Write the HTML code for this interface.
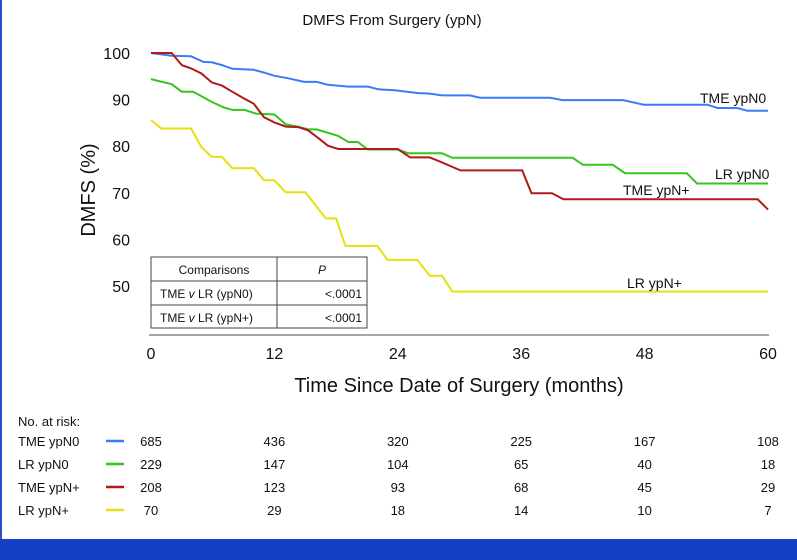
<!DOCTYPE html>
<html><head><meta charset="utf-8"><style>
body{margin:0;background:#fff;}
svg{display:block;font-family:"Liberation Sans",Arial,sans-serif;}
</style></head><body>
<svg id="chart" width="797" height="560" viewBox="0 0 797 560">
<rect x="0" y="0" width="797" height="560" fill="#fff"/>
<rect x="0" y="0" width="2" height="540" fill="#2a4fcf"/>
<rect x="0" y="539" width="797" height="21" fill="#1440c4"/>
<text x="392" y="25" font-size="15" text-anchor="middle" fill="#111">DMFS From Surgery (ypN)</text>
<text transform="translate(95,190) rotate(-90)" font-size="20" text-anchor="middle" fill="#111">DMFS (%)</text>
<text x="459" y="392" font-size="20" text-anchor="middle" fill="#111">Time Since Date of Surgery (months)</text>
<line x1="149" y1="335" x2="769" y2="335" stroke="#888" stroke-width="1.5"/>
<g id="yticks"></g><g id="xticks"></g><g id="series"></g>
<text x="700" y="103" font-size="14" fill="#111">TME ypN0</text>
<text x="715" y="179" font-size="14" fill="#111">LR ypN0</text>
<text x="623" y="195" font-size="14" fill="#111">TME ypN+</text>
<text x="627" y="288" font-size="14" fill="#111">LR ypN+</text>
<g>
<rect x="151" y="257" width="216" height="71" fill="#fff" stroke="#444" stroke-width="1"/>
<line x1="151" y1="281" x2="367" y2="281" stroke="#444"/>
<line x1="151" y1="305" x2="367" y2="305" stroke="#444"/>
<line x1="277" y1="257" x2="277" y2="328" stroke="#444"/>
<text x="214" y="274" font-size="12" text-anchor="middle" fill="#111">Comparisons</text>
<text x="322" y="274" font-size="12" text-anchor="middle" font-style="italic" fill="#111">P</text>
<text x="160" y="298" font-size="12" fill="#111">TME <tspan font-style="italic">v</tspan> LR (ypN0)</text>
<text x="362" y="298" font-size="12" text-anchor="end" fill="#111">&lt;.0001</text>
<text x="160" y="322" font-size="12" fill="#111">TME <tspan font-style="italic">v</tspan> LR (ypN+)</text>
<text x="362" y="322" font-size="12" text-anchor="end" fill="#111">&lt;.0001</text>
</g>
<text x="18" y="426" font-size="13" fill="#111">No. at risk:</text>
<g id="risk"></g>
</svg>
<script>
const seriesNames = ["TME ypN0","LR ypN0","TME ypN+","LR ypN+"];
const seriesColors = ["#3a7cf6","#35c51c","#b01a1a","#e6e010"];
const tmeN0 = [[0,100],[2,99.4],[3.9,99.3],[5.1,98.1],[5.9,98],[6.9,97.4],[7.9,96.6],[10,96.4],[11,95.8],[12,95.1],[13.3,94.6],[14.9,93.8],[16.1,93.8],[17.2,93.2],[19.2,92.8],[21.1,92.8],[22.1,92.2],[23.7,92],[26,91.4],[27,91.3],[28.3,90.9],[31,90.9],[32,90.4],[38.8,90.4],[40,89.9],[45.9,89.9],[47.9,88.9],[54.1,88.9],[55.1,88.2],[57,88.2],[58,87.6],[60,87.6]];
const lrN0 = [[0,94.4],[2,93.3],[3,91.7],[4.1,91.7],[5.9,89.5],[7.1,88.3],[7.9,87.8],[9.1,87.8],[10.2,87],[12,86.8],[13.1,84.7],[14.3,84.2],[15.3,83.6],[16.1,83.6],[18.2,82.2],[19.2,80.9],[20.1,80.9],[21.1,79.3],[24,79.3],[25,78.5],[28.3,78.5],[29.3,77.5],[41,77.5],[42,76],[44.9,76],[46.1,74.2],[52.1,74.2],[53.1,72],[60,72]];
const tmeNp = [[0,100],[2,100],[3,97.4],[3.9,96.7],[4.9,95.6],[5.9,93.7],[6.9,93],[7.9,91.7],[9,90.3],[10,89.1],[11,86.2],[12,85.1],[13.1,84.2],[14.3,84.1],[15.3,83.4],[16.3,81.7],[17.2,80.1],[18.2,79.4],[24,79.4],[25.2,77.6],[27.1,77.6],[28.1,76.7],[30.1,74.8],[36.1,74.8],[37,69.9],[39,69.9],[40.1,68.6],[59,68.6],[60,66.4]];
const lrNp = [[0,85.6],[1,83.8],[3.9,83.8],[4.9,79.8],[5.9,77.7],[6.9,77.7],[7.9,75.3],[10,75.3],[11,72.7],[12,72.7],[13.1,70.1],[15,70.1],[17,64.5],[18,64.5],[18.9,58.6],[22,58.6],[23,55.6],[25.9,55.6],[27.1,52.2],[28.3,52.2],[29.3,48.8],[60,48.8]];
const xTicks = [0,12,24,36,48,60];
const yTicks = [100,90,80,70,60,50];
const riskTME0 = [685,436,320,225,167,108];
const riskLR0 = [229,147,104,65,40,18];
const riskTMEp = [208,123,93,68,45,29];
const riskLRp = [70,29,18,14,10,7];

const NS="http://www.w3.org/2000/svg";
function xs(m){return 151+m*(768-151)/60;}
function ys(v){return 53+(100-v)*(286-53)/50;}
function mk(tag,attrs,parent,text){const e=document.createElementNS(NS,tag);for(const k in attrs)e.setAttribute(k,attrs[k]);if(text!==undefined)e.textContent=text;parent.appendChild(e);return e;}
const yg=document.getElementById('yticks');
yTicks.forEach(v=>{const t=mk('text',{x:130,y:ys(v)+6,'font-size':16,'text-anchor':'end',fill:'#111'},yg,String(v));

});
const xg=document.getElementById('xticks');
xTicks.forEach(m=>{const t=mk('text',{x:xs(m),y:359,'font-size':16,'text-anchor':'middle',fill:'#111'},xg,String(m));

});
const sg=document.getElementById('series');
[tmeN0,lrN0,tmeNp,lrNp].forEach((d,i)=>{const p=mk('polyline',{points:d.map(q=>xs(q[0]).toFixed(1)+','+ys(q[1]).toFixed(1)).join(' '),fill:'none',stroke:seriesColors[i],'stroke-width':2},sg);

});
const rg=document.getElementById('risk');
[riskTME0,riskLR0,riskTMEp,riskLRp].forEach((r,i)=>{const y=446+i*23;
const n=mk('text',{x:18,y:y,'font-size':13,fill:'#111'},rg,seriesNames[i]);


const l=mk('line',{x1:106,y1:y-5,x2:124,y2:y-5,stroke:seriesColors[i],'stroke-width':2.5},rg);


r.forEach((v,j)=>{const t=mk('text',{x:xs(xTicks[j]),y:y,'font-size':13,'text-anchor':'middle',fill:'#111'},rg,String(v));

});});
</script>
</body></html>
